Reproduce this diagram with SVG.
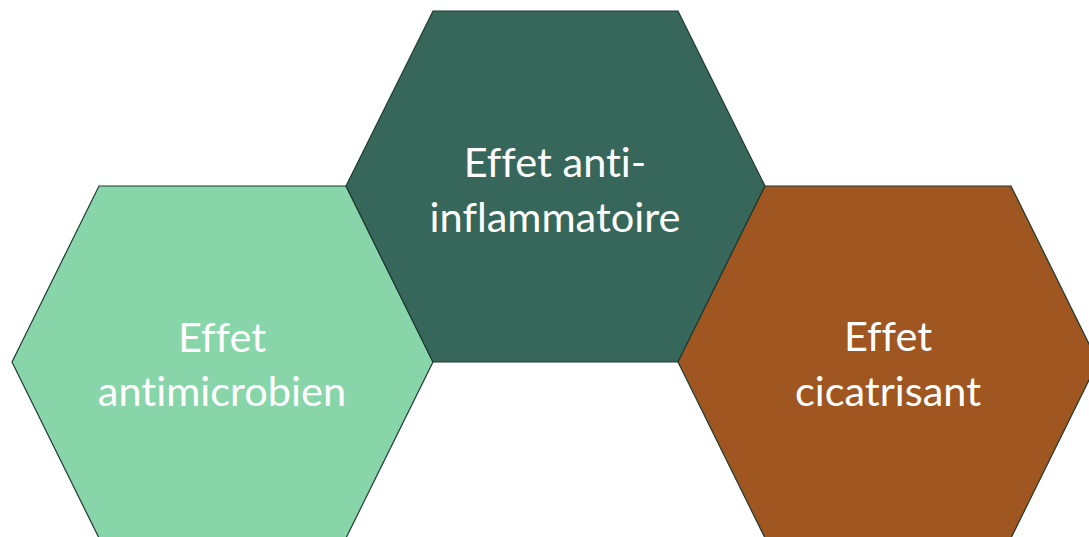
<svg xmlns="http://www.w3.org/2000/svg" width="1089" height="537" viewBox="0 0 1089 537">
<style>
.hex{stroke:#1e3a30;stroke-width:1.2;stroke-linejoin:miter}
.lbl{font-family:Lato,"Open Sans","Liberation Sans",sans-serif;font-size:41.5px;fill:#ffffff;text-anchor:middle;font-variant-ligatures:none}
</style>
<rect width="1089" height="537" fill="#ffffff"/>
<g id="node-antimicrobien">
<polygon class="hex" points="99,186 346,186 433,362 346,538 99,538 12,362" fill="#88d5a9"/>
<text class="lbl" x="222" y="352">Effet</text>
<text class="lbl" x="222" y="406">antimicrobien</text>
</g>
<g id="node-anti-inflammatoire">
<polygon class="hex" points="433,11 678,11 765,186 678,362 433,362 346,186" fill="#37675a"/>
<text class="lbl" x="555" y="177">Effet anti-</text>
<text class="lbl" x="555" y="232">inflammatoire</text>
</g>
<g id="node-cicatrisant">
<polygon class="hex" points="765,186 1011,186 1098,362 1011,538 765,538 678,362" fill="#a05620"/>
<text class="lbl" x="888" y="351">Effet</text>
<text class="lbl" x="888" y="406">cicatrisant</text>
</g>
<g id="connectors"></g>
</svg>
